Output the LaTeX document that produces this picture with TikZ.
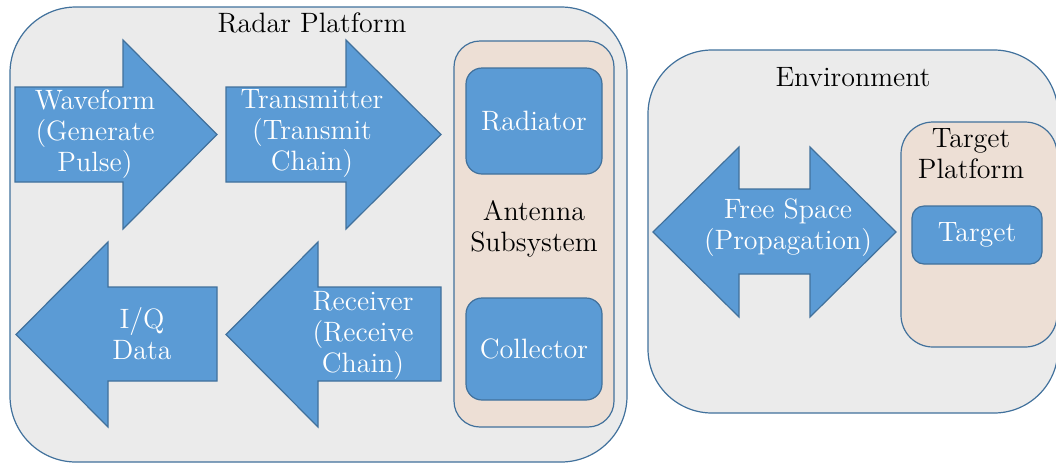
\documentclass[tikz,border=0pt]{standalone}
\definecolor{arrowfill}{HTML}{5B9BD5}
\definecolor{edgeblue}{HTML}{41719C}
\definecolor{panelgray}{HTML}{EBEBEB}
\definecolor{peach}{HTML}{EDDFD5}
\begin{document}
\begin{tikzpicture}[x=0.5pt,y=-0.5pt,
  panel/.style={draw=edgeblue,fill=panelgray,line width=0.6pt,inner sep=0pt},
  subpanel/.style={draw=edgeblue,fill=peach,line width=0.6pt,inner sep=0pt},
  block/.style={draw=edgeblue,fill=arrowfill,line width=0.6pt,text=white,
    font=\fontsize{14}{15.5}\selectfont,inner sep=0pt},
  arrowshape/.style={draw=edgeblue,fill=arrowfill,line width=0.6pt,line join=miter},
  caption/.style={align=center,font=\fontsize{14}{15.5}\selectfont,inner sep=0pt},
  wcaption/.style={caption,text=white}]
\useasboundingbox (0,0) rectangle (1056,463);

% radar platform container
\node[panel,rounded corners=33pt,minimum width=308.5pt,minimum height=227.5pt]
  (radar) at (318.5,234.5) {};
\node[caption] (radartitle) at (312,23) {Radar Platform};

% transmit chain arrows
\draw[arrowshape] (15,87) -- (123,87) -- (123,40) -- (217,134.5) -- (123,229)
  -- (123,182) -- (15,182) -- cycle;
\node[wcaption] (waveform) at (95,134) {Waveform\\(Generate\\Pulse)};
\draw[arrowshape] (226,87) -- (346,87) -- (346,40) -- (441,134.5) -- (346,229)
  -- (346,182) -- (226,182) -- cycle;
\node[wcaption] (transmitter) at (312,134) {Transmitter\\(Transmit\\Chain)};

% receive chain arrows
\draw[arrowshape] (16,334.5) -- (108,242) -- (108,287) -- (217,287) -- (217,381)
  -- (108,381) -- (108,427) -- cycle;
\node[wcaption] (iq) at (142,334) {I/Q\\Data};
\draw[arrowshape] (226,334.5) -- (318,242) -- (318,287) -- (441,287) -- (441,381)
  -- (318,381) -- (318,427) -- cycle;
\node[wcaption] (receiver) at (363,335) {Receiver\\(Receive\\Chain)};

% antenna subsystem
\node[subpanel,rounded corners=13pt,minimum width=80pt,minimum height=193pt]
  (antenna) at (534,234) {};
\node[block,rounded corners=8pt,minimum width=68pt,minimum height=53pt]
  (radiator) at (534,121) {Radiator};
\node[block,rounded corners=8pt,minimum width=68pt,minimum height=51pt]
  (collector) at (534,349) {Collector};
\node[caption] (antennatitle) at (534,229) {Antenna\\Subsystem};

% environment container
\node[panel,rounded corners=32pt,minimum width=205pt,minimum height=181.5pt]
  (environment) at (853,231.5) {};
\node[caption] (envtitle) at (853,77) {Environment};

\draw[arrowshape] (653,232) -- (739,147) -- (739,189) -- (810,189) -- (810,147)
  -- (896,232) -- (810,317) -- (810,274) -- (739,274) -- (739,317) -- cycle;
\node[wcaption] (freespace) at (788,228) {Free Space\\(Propagation)};

% target platform
\node[subpanel,rounded corners=16pt,minimum width=78pt,minimum height=112.5pt]
  (targetplat) at (979,234.5) {};
\node[caption] (targettitle) at (971,154) {Target\\Platform};
\node[block,rounded corners=6pt,minimum width=65pt,minimum height=29pt]
  (target) at (977,235) {Target};
\end{tikzpicture}
\end{document}
